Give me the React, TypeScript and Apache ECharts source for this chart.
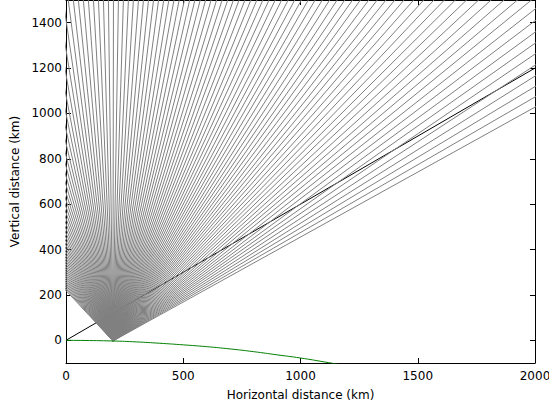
import React, { useEffect, useRef } from "react";
import * as echarts from "echarts";

// Fan of rays from a ground point; angles in degrees
const rayOrigin = [200, -3];
const rayAngles = [
  29.8, 30.86, 31.92, 32.97, 34.03, 35.09,
  36.09, 37.09, 38.1, 39.1, 40.1,
  41.06, 42.02, 42.98, 43.94, 44.9,
  45.82, 46.75, 47.67, 48.59, 49.52, 50.44,
  51.34, 52.23, 53.13, 54.02, 54.92,
  55.79, 56.66, 57.53, 58.41, 59.28, 60.15,
  61.0, 61.86, 62.71, 63.56, 64.42, 65.27,
  66.11, 66.95, 67.78, 68.62, 69.46, 70.3,
  71.12, 71.95, 72.78, 73.6, 74.43, 75.26,
  76.08, 76.9, 77.71, 78.53, 79.35, 80.17,
  80.98, 81.79, 82.61, 83.42, 84.23, 85.04, 85.85, 86.67, 87.48, 88.29,
  89.1, 89.91, 90.73, 91.54, 92.35, 93.16, 93.98, 94.79, 95.6, 96.41,
  97.22, 98.04, 98.85, 99.66, 100.47,
  101.29, 102.11, 102.93, 103.74, 104.56, 105.38,
  106.21, 107.03, 107.86, 108.69, 109.51, 110.34,
  111.18, 112.02, 112.86, 113.69, 114.53, 115.37,
  116.22, 117.08, 117.93, 118.78, 119.64, 120.49,
  121.36, 122.23, 123.11, 123.98, 124.85, 125.72,
  126.62, 127.51, 128.41, 129.3, 130.2, 131.11, 132.0,
];
const rayLength = 4000;

// Black line of sight from the origin
const sightLine = [
  [0, 0],
  [2000, 1200],
];

// Earth's surface (green)
const earthX = [0, 100, 200, 300, 400, 500, 600, 700, 800, 900, 1000, 1100, 1200];
const earthY = [0, -1, -3, -7, -13, -20, -28, -38, -50, -64, -78, -95, -113];

const FONT = "DejaVu Sans";

export default function App() {
  const ref = useRef<HTMLDivElement>(null);
  useEffect(() => {
    if (!ref.current) return;
    const chart = echarts.init(ref.current, null, { renderer: "svg" });

    const raySeries = rayAngles.map((deg) => {
      const r = (deg * Math.PI) / 180;
      return {
        type: "line",
        xAxisIndex: 0,
        yAxisIndex: 0,
        data: [
          rayOrigin,
          [rayOrigin[0] + rayLength * Math.cos(r), rayOrigin[1] + rayLength * Math.sin(r)],
        ],
        symbol: "none",
        silent: true,
        clip: true,
        lineStyle: { color: "#808080", width: 1 },
        z: 3,
      };
    });

    const axisCommon = {
      type: "value",
      axisLine: { show: true, onZero: false, lineStyle: { color: "#000", width: 1 } },
      axisTick: { show: true, inside: true, length: 5, lineStyle: { color: "#000", width: 1 } },
      splitLine: { show: false },
    };
    const labelStyle = { color: "#000", fontSize: 12, fontFamily: FONT };
    const plain = (v: number) => String(v);

    chart.setOption({
      animation: false,
      grid: {
        left: 66,
        right: 14,
        top: 0,
        bottom: 44,
        containLabel: false,
        outerBoundsMode: "none",
      },
      xAxis: [
        {
          ...axisCommon,
          min: 0,
          max: 2000,
          splitNumber: 4,
          position: "bottom",
          axisLabel: { ...labelStyle, margin: 7, formatter: plain },
          name: "Horizontal distance (km)",
          nameLocation: "middle",
          nameGap: 26,
          nameTextStyle: { ...labelStyle },
        },
        {
          ...axisCommon,
          min: 0,
          max: 2000,
          splitNumber: 4,
          position: "top",
          axisLabel: { show: false },
        },
      ],
      yAxis: [
        {
          ...axisCommon,
          min: -100,
          max: 1500,
          splitNumber: 8,
          position: "left",
          axisLabel: {
            ...labelStyle,
            margin: 4,
            showMinLabel: false,
            showMaxLabel: false,
            formatter: plain,
          },
          name: "Vertical distance (km)",
          nameLocation: "middle",
          nameGap: 45,
          nameTextStyle: { ...labelStyle },
        },
        {
          ...axisCommon,
          min: -100,
          max: 1500,
          splitNumber: 8,
          position: "right",
          axisLabel: { show: false },
        },
      ],
      series: [
        {
          type: "line",
          data: sightLine,
          symbol: "none",
          silent: true,
          lineStyle: { color: "#000", width: 1 },
          z: 2,
        },
        ...raySeries,
        {
          type: "line",
          data: earthX.map((x, i) => [x, earthY[i]]),
          smooth: true,
          symbol: "none",
          silent: true,
          lineStyle: { color: "#008000", width: 1 },
          z: 4,
        },
      ],
    });
    return () => chart.dispose();
  }, []);
  return (
    <div
      ref={ref}
      style={{ position: "absolute", left: 0, top: 0, width: 549, height: 407 }}
    />
  );
}
